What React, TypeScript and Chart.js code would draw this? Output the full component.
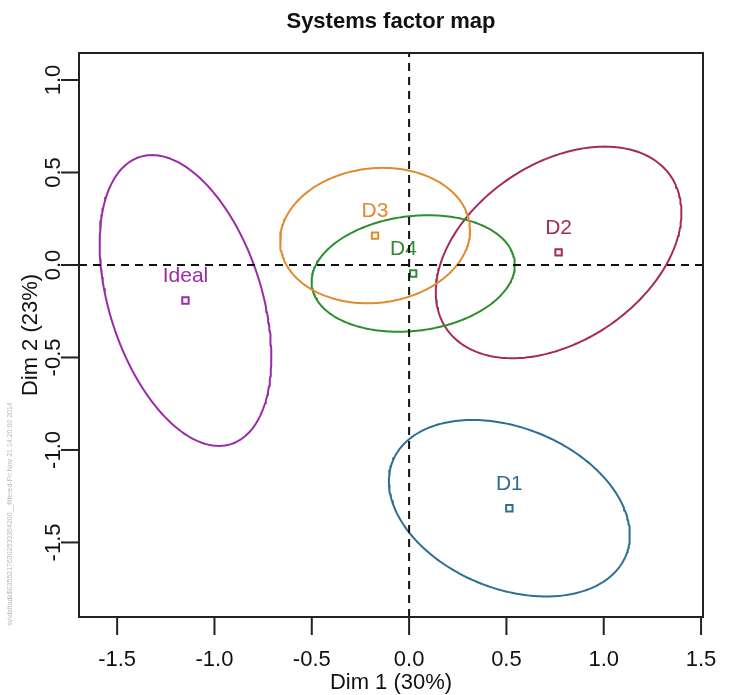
import React, { useEffect, useRef } from "react";
import { Chart, registerables } from "chart.js";

Chart.register(...registerables);

// ---- text ----
const TITLE = "Systems factor map";
const X_TITLE = "Dim 1 (30%)";
const Y_TITLE = "Dim 2 (23%)";
const WATERMARK = "sv\\deltadk$03552176302533354200__filtered-Fri Nov 21 14:20:00 2014";

// ---- axes ----
const xTicks = [-1.5, -1.0, -0.5, 0.0, 0.5, 1.0, 1.5];
const yTicks = [-1.5, -1.0, -0.5, 0.0, 0.5, 1.0];
const xRange = [-1.696, 1.51];
const yRange = [-1.903, 1.146];

// ---- systems (points) ----
const systems = ["Ideal", "D3", "D4", "D2", "D1"];
const dim1 = [-1.149, -0.175, 0.021, 0.768, 0.515];
const dim2 = [-0.192, 0.159, -0.046, 0.068, -1.315];
const colors = ["#9A2BA8", "#E18A2E", "#2E8E2E", "#A52A5C", "#2E6E95"];
const labelNudge = [0, 0, -0.05, 0, 0];

// ---- confidence ellipses (half width on Dim 1, half height on Dim 2, Dim 1 offset of topmost point) ----
const ellHalfWidth = [0.441, 0.488, 0.522, 0.631, 0.619];
const ellHalfHeight = [0.786, 0.366, 0.315, 0.572, 0.477];
const ellTopShift = [-0.172, 0.039, 0.076, 0.237, -0.189];

const FONT = "'Liberation Sans', Arial, sans-serif";

function ellipsePath(i: number) {
  const pts: { x: number; y: number }[] = [];
  const k = ellTopShift[i];
  const w = Math.sqrt(Math.max(ellHalfWidth[i] ** 2 - k * k, 0));
  const n = 240;
  for (let s = 0; s <= n + 2; s++) {
    const t = (2 * Math.PI * s) / n;
    pts.push({
      x: dim1[i] + k * Math.sin(t) + w * Math.cos(t),
      y: dim2[i] + ellHalfHeight[i] * Math.sin(t),
    });
  }
  return pts;
}

const decorPlugin = {
  id: "decor",
  beforeDatasetsDraw(chart: any) {
    const { ctx, scales } = chart;
    const xs = scales.x, ys = scales.y;
    ctx.save();
    ctx.font = `21px ${FONT}`;
    ctx.textAlign = "center";
    ctx.textBaseline = "middle";
    systems.forEach((name, i) => {
      ctx.fillStyle = colors[i];
      const px = xs.getPixelForValue(dim1[i] + labelNudge[i]);
      const py = ys.getPixelForValue(dim2[i]);
      ctx.fillText(name, px, py - 24);
    });
    ctx.restore();
  },
  afterDraw(chart: any) {
    const { ctx, chartArea, scales } = chart;
    const xs = scales.x, ys = scales.y;
    const { left, right, top, bottom } = chartArea;
    ctx.save();
    // box
    ctx.strokeStyle = "#222";
    ctx.lineWidth = 2;
    ctx.setLineDash([]);
    ctx.strokeRect(left, top, right - left, bottom - top);
    // x ticks
    ctx.fillStyle = "#111";
    ctx.font = `22px ${FONT}`;
    ctx.textAlign = "center";
    ctx.textBaseline = "middle";
    xTicks.forEach((v) => {
      const px = xs.getPixelForValue(v);
      ctx.beginPath();
      ctx.moveTo(px, bottom);
      ctx.lineTo(px, bottom + 18);
      ctx.stroke();
      ctx.fillText(v.toFixed(1), px, bottom + 43);
    });
    // y ticks
    yTicks.forEach((v) => {
      const py = ys.getPixelForValue(v);
      ctx.beginPath();
      ctx.moveTo(left - 18, py);
      ctx.lineTo(left, py);
      ctx.stroke();
      ctx.save();
      ctx.translate(left - 19, py);
      ctx.rotate(-Math.PI / 2);
      ctx.textAlign = "center";
      ctx.textBaseline = "alphabetic";
      ctx.fillText(v.toFixed(1), 0, 0);
      ctx.restore();
    });
    // axis titles
    ctx.fillText(X_TITLE, (left + right) / 2, bottom + 66);
    ctx.save();
    ctx.translate(31, (top + bottom) / 2);
    ctx.rotate(-Math.PI / 2);
    ctx.fillText(Y_TITLE, 0, 0);
    ctx.restore();
    // title
    ctx.font = `bold 22px ${FONT}`;
    ctx.fillText(TITLE, (left + right) / 2, 22);
    // watermark
    ctx.save();
    ctx.fillStyle = "#b8b8b8";
    ctx.font = `7px ${FONT}`;
    ctx.translate(10, 514);
    ctx.rotate(-Math.PI / 2);
    ctx.fillText(WATERMARK, 0, 0);
    ctx.restore();
    ctx.restore();
  },
};

export default function App() {
  const ref = useRef<HTMLCanvasElement | null>(null);
  useEffect(() => {
    document.body.style.margin = "0";
    const canvas = ref.current;
    if (!canvas) return;
    const datasets: any[] = [];
    // reference dashed lines (drawn on top)
    datasets.push({
      data: [{ x: xRange[0], y: 0 }, { x: xRange[1], y: 0 }],
      showLine: true,
      borderColor: "#111",
      borderWidth: 2,
      borderDash: [8, 6],
      pointRadius: 0,
    });
    datasets.push({
      data: [{ x: 0, y: yRange[0] }, { x: 0, y: yRange[1] }],
      showLine: true,
      borderColor: "#111",
      borderWidth: 2,
      borderDash: [8, 6],
      pointRadius: 0,
    });
    systems.forEach((name, i) => {
      datasets.push({
        label: name,
        data: [{ x: dim1[i], y: dim2[i] }],
        pointStyle: "rect",
        pointRadius: 4.5,
        pointBorderWidth: 2,
        borderColor: colors[i],
        backgroundColor: "rgba(0,0,0,0)",
        showLine: false,
      });
    });
    systems.forEach((name, i) => {
      datasets.push({
        label: name + " ellipse",
        data: ellipsePath(i),
        showLine: true,
        borderColor: colors[i],
        borderWidth: 2,
        borderJoinStyle: "round",
        borderCapStyle: "round",
        pointRadius: 0,
        tension: 0,
        fill: false,
      });
    });
    const chart = new Chart(canvas, {
      type: "scatter",
      data: { datasets },
      options: {
        responsive: false,
        animation: false,
        devicePixelRatio: 1,
        layout: { padding: { left: 79, right: 34, top: 53, bottom: 78 } },
        plugins: { legend: { display: false }, tooltip: { enabled: false }, title: { display: false } },
        scales: {
          x: { type: "linear", min: xRange[0], max: xRange[1], display: false },
          y: { type: "linear", min: yRange[0], max: yRange[1], display: false },
        },
      },
      plugins: [decorPlugin],
    });
    return () => chart.destroy();
  }, []);
  return (
    <div style={{ width: 737, height: 695, background: "#fff" }}>
      <canvas ref={ref} width={737} height={695} style={{ display: "block" }} />
    </div>
  );
}
